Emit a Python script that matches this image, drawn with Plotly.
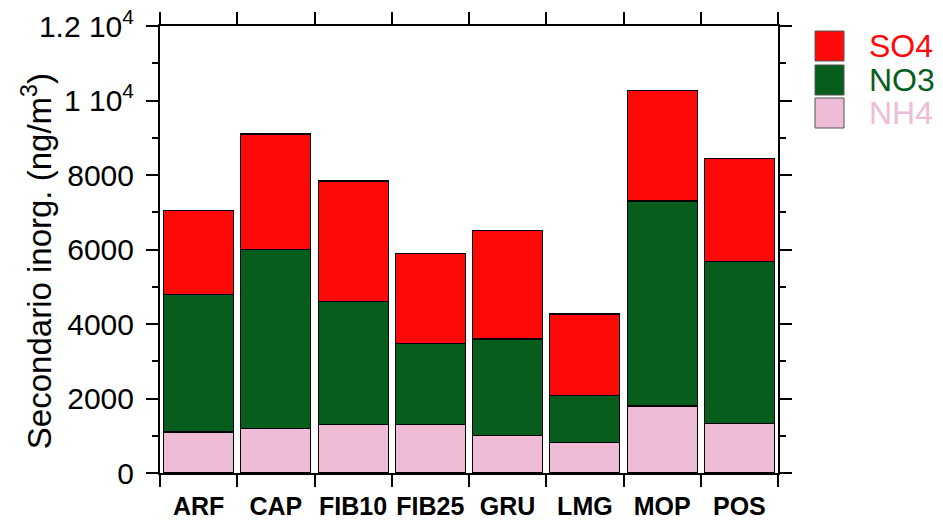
import plotly.graph_objects as go

# Sampling sites
sites = ["ARF", "CAP", "FIB10", "FIB25", "GRU", "LMG", "MOP", "POS"]

# Secondary inorganic components (ng/m3), stacked bottom to top
nh4 = [1100, 1200, 1300, 1300, 1000, 820, 1800, 1320]
no3 = [3700, 4800, 3300, 2180, 2600, 1270, 5500, 4360]
so4 = [2250, 3100, 3240, 2420, 2900, 2180, 2960, 2770]

series_names = ["NH4", "NO3", "SO4"]
series_values = [nh4, no3, so4]
series_colors = ["#EFBCD8", "#075E1C", "#FF0808"]

# y-axis tick labels
y_tickvals = [0, 2000, 4000, 6000, 8000, 10000, 12000]
y_ticktext = ["0", "2000", "4000", "6000", "8000",
              "1 10<sup>4</sup>", "1.2 10<sup>4</sup>"]

FONT = "Liberation Sans, Arial, Helvetica, sans-serif"

fig = go.Figure()
for name, vals, col in zip(series_names, series_values, series_colors):
    fig.add_trace(go.Bar(
        x=sites, y=vals, name=name,
        marker=dict(color=col, line=dict(color="black", width=1.2)),
        showlegend=False,
    ))

# Legend drawn as swatches + coloured labels to the right of the frame
legend_rows = [(0.9888, 0.9217), (0.9128, 0.8456), (0.8389, 0.7718)]
for (y1, y0), name, col in zip(legend_rows,
                               series_names[::-1], series_colors[::-1]):
    fig.add_shape(type="rect", xref="paper", yref="paper",
                  x0=1.0599, x1=1.1068, y0=y0, y1=y1,
                  fillcolor=col, line=dict(color="#555555", width=1))
    fig.add_annotation(xref="paper", yref="paper", x=1.1440, y=(y0 + y1) / 2,
                       text=name, showarrow=False, xanchor="left",
                       yanchor="middle",
                       font=dict(family=FONT, size=32, color=col))

# Rotated y-axis title
fig.add_annotation(xref="paper", yref="paper", x=-0.199, y=0.474,
                   text="Secondario inorg. (ng/m<sup>3</sup>)",
                   textangle=-90, showarrow=False,
                   xanchor="center", yanchor="middle",
                   font=dict(family=FONT, size=33, color="black"))

fig.update_layout(
    width=943, height=524,
    margin=dict(l=160, r=165, t=26, b=51),
    barmode="stack", bargap=0.094,
    plot_bgcolor="white", paper_bgcolor="white",
    font=dict(family=FONT, color="black"),
)

fig.update_xaxes(
    type="category", tickson="boundaries", tickangle=0, automargin=False,
    showline=True, linecolor="black", linewidth=2, mirror="allticks",
    ticks="outside", ticklen=12, tickwidth=2, tickcolor="black",
    ticklabelstandoff=10,
    showgrid=False, zeroline=False,
    tickfont=dict(family=FONT, size=25, color="black", weight="bold"),
)

fig.update_yaxes(
    range=[0, 12000], automargin=False,
    tickvals=y_tickvals, ticktext=y_ticktext,
    showline=True, linecolor="black", linewidth=2, mirror="allticks",
    ticks="outside", ticklen=12, tickwidth=2, tickcolor="black",
    ticklabelstandoff=6,
    minor=dict(dtick=1000, ticks="outside", ticklen=6, tickwidth=2,
               tickcolor="black", showgrid=False),
    showgrid=False, zeroline=False,
    tickfont=dict(family=FONT, size=30, color="black"),
)

fig.write_html("out.html")
